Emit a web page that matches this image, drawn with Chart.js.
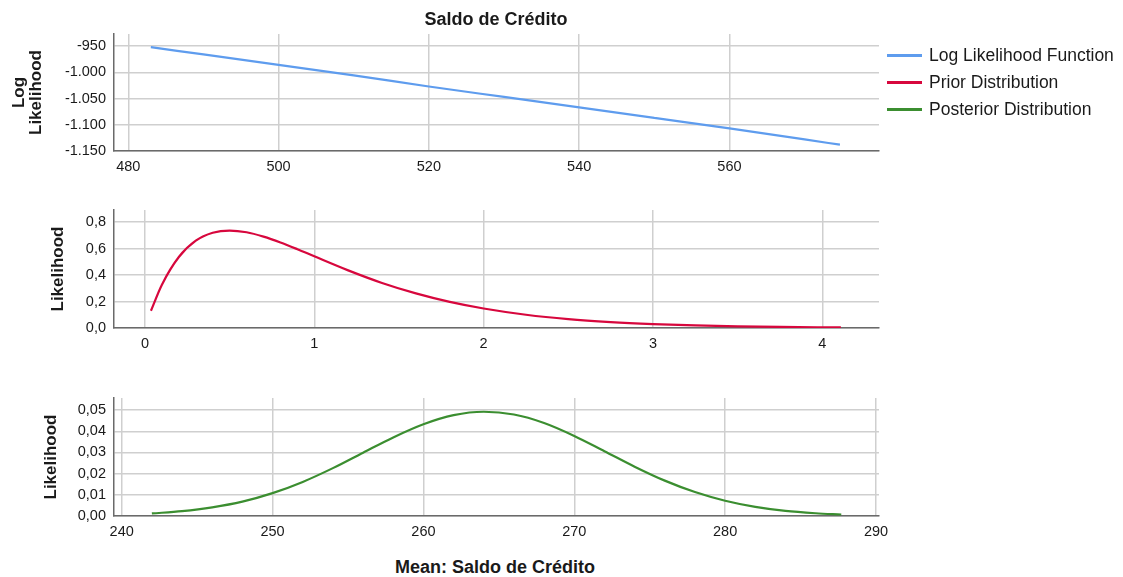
<!DOCTYPE html>
<html lang="pt">
<head>
<meta charset="utf-8">
<title>Saldo de Crédito</title>
<script src="https://cdn.jsdelivr.net/npm/chart.js@4.4.1/dist/chart.umd.min.js"></script>
<style>
  html, body { margin: 0; padding: 0; background: #fff; }
  #tela { position: relative; width: 1123px; height: 577px; overflow: hidden; font-family: "Liberation Sans", Arial, sans-serif; color: #1a1a1a; }
  canvas { position: absolute; left: 0; }
  .titulo { position: absolute; font-weight: bold; font-size: 18px; white-space: nowrap; transform: translate(-50%, -50%); }
  #legenda { position: absolute; left: 887px; top: 42px; font-size: 17.5px; }
  .item { display: flex; align-items: center; height: 27px; }
  .amostra { width: 35px; height: 2.5px; margin-right: 7px; }
</style>
</head>
<body>
<div id="tela">
  <canvas id="grafLog" width="1123" height="181" style="top:0px"></canvas>
  <canvas id="grafPrior" width="1123" height="178" style="top:180px"></canvas>
  <canvas id="grafPost" width="1123" height="176" style="top:370px"></canvas>
  <div class="titulo" style="left:496px; top:19px">Saldo de Crédito</div>
  <div class="titulo" style="left:495px; top:567px">Mean: Saldo de Crédito</div>
  <div id="legenda"></div>
</div>
<script>
// Log likelihood (painel de cima)
const mediaLog = [483, 490, 500, 510, 520, 530, 540, 550, 560, 570, 574.7];
const valoresLog = [-952, -966, -986, -1006, -1027, -1047, -1067, -1087, -1107, -1128, -1138];
const ticksXLog = [480, 500, 520, 540, 560];
const ticksYLog = [-1150, -1100, -1050, -1000, -950];

// Prior (painel do meio)
const mediaPrior = [0.035, 0.1, 0.2, 0.3, 0.4, 0.5, 0.6, 0.7, 0.8, 0.9, 1.0, 1.2, 1.4, 1.6, 1.8, 2.0, 2.25, 2.5, 2.75, 3.0, 3.25, 3.5, 3.75, 4.0, 4.11];
const valoresPrior = [0.13, 0.327, 0.536, 0.659, 0.719, 0.736, 0.723, 0.690, 0.646, 0.595, 0.541, 0.435, 0.340, 0.261, 0.197, 0.147, 0.100, 0.067, 0.045, 0.030, 0.0195, 0.0128, 0.0083, 0.0054, 0.0044];
const ticksXPrior = [0, 1, 2, 3, 4];
const ticksYPrior = [0, 0.2, 0.4, 0.6, 0.8];

// Posterior (painel de baixo)
const mediaPost = [242, 244, 246, 248, 250, 252, 254, 256, 258, 260, 262, 264, 266, 268, 270, 272, 274, 276, 278, 280, 282, 284, 286, 287.7];
const valoresPost = [0.0012, 0.0023, 0.0041, 0.0068, 0.0108, 0.0161, 0.0226, 0.0299, 0.0371, 0.0433, 0.0476, 0.0492, 0.0479, 0.0439, 0.0378, 0.0306, 0.0233, 0.0167, 0.0113, 0.0072, 0.0043, 0.0024, 0.0013, 0.0007];
const ticksXPost = [240, 250, 260, 270, 280, 290];
const ticksYPost = [0, 0.01, 0.02, 0.03, 0.04, 0.05];

const series = [
  { label: "Log Likelihood Function", cor: "#5e9cee" },
  { label: "Prior Distribution", cor: "#d7073d" },
  { label: "Posterior Distribution", cor: "#3b8e30" },
];

const fonte = "'Liberation Sans', Arial, sans-serif";
const corTexto = "#1a1a1a";
const corGrade = "#cfcfcf";
const corEixo = "#6a6a6a";

// formato brasileiro: 1.150 e 0,8
function milhar(v) {
  const s = String(Math.abs(Math.round(v))).replace(/\B(?=(\d{3})+(?!\d))/g, ".");
  return (v < 0 ? "-" : "") + s;
}
function decimal(casas) {
  return (v) => v.toFixed(casas).replace(".", ",");
}

function criarPainel(id, pontosX, pontosY, cor, ticksX, ticksY, xMin, xMax, yMax, formatoY, tituloY, tituloPad, alturaLinha, topo) {
  const dados = pontosX.map((x, i) => ({ x: x, y: pontosY[i] }));
  return new Chart(document.getElementById(id), {
    type: "line",
    data: {
      datasets: [{
        data: dados,
        borderColor: cor,
        borderWidth: 2.2,
        pointRadius: 0,
        fill: false,
        cubicInterpolationMode: "monotone",
      }],
    },
    options: {
      responsive: false,
      animation: false,
      events: [],
      layout: { padding: { left: 0, top: topo, right: 244, bottom: 0 } },
      plugins: { legend: { display: false }, tooltip: { enabled: false } },
      scales: {
        x: {
          type: "linear",
          min: xMin,
          max: xMax,
          afterBuildTicks: (s) => { s.ticks = ticksX.map((v) => ({ value: v })); },
          afterFit: (s) => { s.height = 30; },
          ticks: { padding: 7, color: corTexto, font: { family: fonte, size: 14.5 }, callback: (v) => String(v), maxRotation: 0 },
          grid: { color: corGrade, lineWidth: 1.5, drawTicks: false },
          border: { color: corEixo, width: 1.5 },
        },
        y: {
          type: "linear",
          min: ticksY[0],
          max: yMax,
          afterBuildTicks: (s) => { s.ticks = ticksY.map((v) => ({ value: v })); },
          afterFit: (s) => { s.width = 114; },
          ticks: { padding: 8, color: corTexto, font: { family: fonte, size: 14.5 }, callback: formatoY },
          grid: { color: corGrade, lineWidth: 1.5, drawTicks: false },
          border: { color: corEixo, width: 1.5 },
          title: {
            display: true,
            text: tituloY,
            color: corTexto,
            font: { family: fonte, size: 17, weight: "bold", lineHeight: alturaLinha },
            padding: { top: tituloPad, bottom: 0 },
          },
        },
      },
    },
  });
}

criarPainel("grafLog", mediaLog, valoresLog, series[0].cor, ticksXLog, ticksYLog,
  478.1, 579.9, -927, milhar, ["Log", "Likelihood"], 11, 1.0, 34);
criarPainel("grafPrior", mediaPrior, valoresPrior, series[1].cor, ticksXPrior, ticksYPrior,
  -0.183, 4.335, 0.891, decimal(1), "Likelihood", 48, 1.2, 30);
criarPainel("grafPost", mediaPost, valoresPost, series[2].cor, ticksXPost, ticksYPost,
  239.49, 290.2, 0.0557, decimal(2), "Likelihood", 40.8, 1.2, 28);

// legenda
const legenda = document.getElementById("legenda");
series.forEach((s) => {
  const item = document.createElement("div");
  item.className = "item";
  const amostra = document.createElement("div");
  amostra.className = "amostra";
  amostra.style.background = s.cor;
  const texto = document.createElement("span");
  texto.textContent = s.label;
  item.appendChild(amostra);
  item.appendChild(texto);
  legenda.appendChild(item);
});
</script>
</body>
</html>
